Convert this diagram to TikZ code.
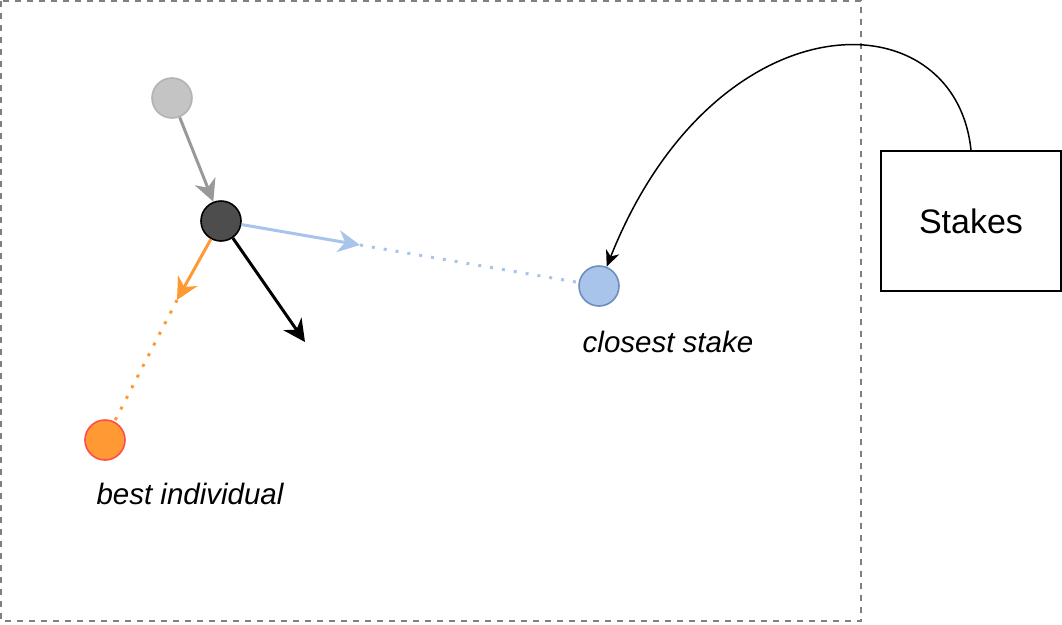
\documentclass[tikz,border=0pt]{standalone}
\usepackage{fontspec}
\setmainfont{Liberation Sans}
\usetikzlibrary{arrows.meta}
\definecolor{boxgray}{HTML}{808080}
\definecolor{oldfill}{HTML}{C4C4C4}
\definecolor{oldline}{HTML}{B3B3B3}
\definecolor{curfill}{HTML}{4D4D4D}
\definecolor{stakefill}{HTML}{A9C4EB}
\definecolor{stakeline}{HTML}{6C8EBF}
\definecolor{bestfill}{HTML}{FF9933}
\definecolor{bestline}{HTML}{FF4D4D}
\definecolor{grayarrow}{HTML}{999999}
\definecolor{orangearrow}{HTML}{FF9933}
\definecolor{bluearrow}{HTML}{A9C4EB}
\begin{document}
\begin{tikzpicture}[x=1pt,y=-1pt,
  dot/.style={circle,minimum size=40pt,inner sep=0pt,line width=1.6pt},
  vec/.style={line width=3pt,-{Stealth[length=22pt,width=22pt,inset=7pt]}},
  dotline/.style={line width=3pt,dash pattern=on 3pt off 9pt},
  lab/.style={font=\fontsize{29.5}{34}\selectfont\itshape}]
\useasboundingbox (0,0) rectangle (1062,624);
\draw[boxgray,line width=1.3pt,dash pattern=on 6pt off 6pt] (1,1) rectangle (861,621);
\node[dot,draw=oldline,fill=oldfill] (old) at (172,98) {};
\node[dot,draw=black,fill=curfill] (cur) at (221,221) {};
\node[dot,draw=stakeline,fill=stakefill] (stake) at (599,286) {};
\node[dot,draw=bestline,fill=bestfill] (best) at (105,440) {};
\node[draw=black,line width=1.5pt,minimum width=180pt,minimum height=140pt,inner sep=0pt,font=\fontsize{34}{40}\selectfont] (stakes) at (971,221) {Stakes};
\node[lab] (lstake) at (668,342) {closest stake};
\node[lab] (lbest) at (190,494) {best individual};
\coordinate (btip) at (360,245);
\coordinate (otip) at (177,300);
\coordinate (ktip) at (305,342);
\draw[vec,grayarrow] (old) -- (cur);
\draw[vec,black] (cur) -- (ktip);
\draw[vec,bluearrow] (cur) -- (btip);
\draw[vec,orangearrow] (cur) -- (otip);
\draw[dotline,bluearrow] (btip) -- (stake);
\draw[dotline,orangearrow] (otip) -- (best);
\draw[line width=1.5pt,-{Stealth[length=16pt,width=14pt,inset=5pt]}] (stakes.north) .. controls (955,-5) and (715,-5) .. (stake);
\end{tikzpicture}
\end{document}
